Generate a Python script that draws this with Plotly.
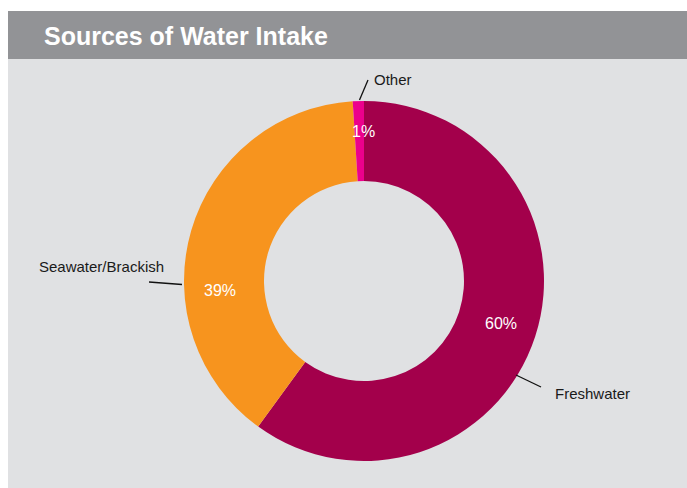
import plotly.graph_objects as go

categories = ["Freshwater", "Seawater/Brackish", "Other"]
values = [60, 39, 1]
colors = ["#a3004b", "#f7941e", "#ec008c"]
title = "Sources of Water Intake"

W, H = 687, 488

def px(x):
    return x / W

def py(y):
    return 1 - y / H

cx, cy, R = 364, 281, 180

fig = go.Figure()
fig.add_trace(go.Pie(
    labels=categories, values=values, sort=False, direction="clockwise",
    rotation=0, hole=100 / 180,
    marker=dict(colors=colors, line=dict(width=0)),
    textinfo="none", hoverinfo="label+percent", showlegend=False,
    domain=dict(x=[px(cx - R), px(cx + R)], y=[py(cy + R), py(cy - R)]),
))

shapes = [
    dict(type="rect", xref="paper", yref="paper", x0=px(8), x1=1, y0=0, y1=py(59),
         fillcolor="#e0e1e3", line=dict(width=0), layer="below"),
    dict(type="rect", xref="paper", yref="paper", x0=px(8), x1=1, y0=py(59), y1=py(11),
         fillcolor="#929396", line=dict(width=0), layer="below"),
]
# leader lines
leaders = [((516, 375), (541, 387)), ((182, 284.5), (149, 282)), ((359.5, 100), (368, 80))]
for (x0, y0), (x1, y1) in leaders:
    shapes.append(dict(type="line", xref="paper", yref="paper",
                       x0=px(x0), y0=py(y0), x1=px(x1), y1=py(y1),
                       line=dict(color="#111111", width=1.3)))

total = sum(values)
pct_pos = [(501, 323), (220, 290), (363, 131)]
label_pos = [(553, 393, "left"), (166, 266, "right"), (372, 80, "left")]

FONT = "Liberation Sans, Arial, sans-serif"
annotations = [dict(text="<b>" + title + "</b>", x=px(42), y=py(36), xref="paper", yref="paper",
                    xanchor="left", yanchor="middle", showarrow=False,
                    font=dict(family=FONT, size=25, color="white"))]
for cat, v, (x, y), (lx, ly, la) in zip(categories, values, pct_pos, label_pos):
    annotations.append(dict(text=f"{round(100 * v / total)}%", x=px(x), y=py(y),
                            xref="paper", yref="paper", showarrow=False,
                            xanchor="center", yanchor="middle",
                            font=dict(family=FONT, size=16, color="white")))
    annotations.append(dict(text=cat, x=px(lx), y=py(ly), xref="paper", yref="paper",
                            showarrow=False, xanchor=la, yanchor="middle",
                            font=dict(family=FONT, size=15, color="#1a1a1a")))

fig.update_layout(
    width=W, height=H, margin=dict(l=0, r=0, t=0, b=0),
    paper_bgcolor="white", plot_bgcolor="white",
    shapes=shapes, annotations=annotations,
)
fig.write_html("out.html", config={"displayModeBar": False},
               post_script="document.body.style.margin='0';")
